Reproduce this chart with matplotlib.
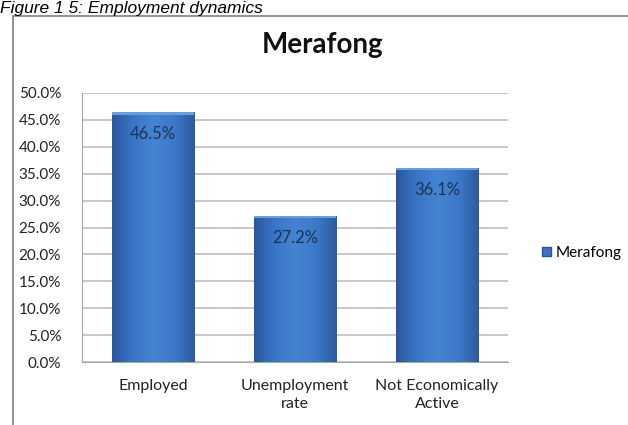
import matplotlib.pyplot as plt
import numpy as np
from matplotlib.patches import Rectangle
from matplotlib.colors import LinearSegmentedColormap

# data
categories = ['Employed', 'Unemployment\nrate', 'Not Economically\nActive']
values = [46.5, 27.2, 36.1]
yticks = np.arange(0, 50.1, 5)
series_name = 'Merafong'

W, H = 628, 425
fig = plt.figure(figsize=(W / 100, H / 100), dpi=100)

# caption above the chart frame
fig.text(0.0, 1 - 13 / H, 'Figure 1 5: Employment dynamics', fontsize=12.5,
         style='italic', family='Liberation Sans', ha='left', va='baseline')

# chart frame
fig.patches.append(Rectangle((13 / W, -0.1), 1.2, (H - 16) / H + 0.1,
                             transform=fig.transFigure, fill=False,
                             edgecolor='#7f7f7f', linewidth=1.2))

ax = fig.add_axes([82 / W, 63 / H, 426 / W, 269 / H])
ax.set_ylim(0, 50)
ax.set_yticks(yticks)
ax.set_yticklabels(['%.1f%%' % v for v in yticks])
ax.yaxis.grid(True, color='#bfbfbf', linewidth=1.2)
ax.set_axisbelow(True)
for s in ['top', 'right']:
    ax.spines[s].set_visible(False)
for s in ['left', 'bottom']:
    ax.spines[s].set_color('#a6a6a6')
ax.tick_params(axis='y', length=0, pad=15, labelsize=11, colors='#222222')
ax.tick_params(axis='x', length=0, pad=12, labelsize=11.5, colors='#222222')
for lbl in ax.get_yticklabels() + ax.get_xticklabels():
    lbl.set_family('Lato')

x = np.arange(len(categories))
bars = ax.bar(x, values, width=0.58, color='#3a72c0', edgecolor='none', zorder=2)
ax.set_xticks(x)
ax.set_xticklabels(categories, linespacing=1.4, family='Lato')

# shaded fill: darker at the sides, lighter in the middle
cmap = LinearSegmentedColormap.from_list(
    'bev', ['#2a579c', '#3a75c6', '#4584d0', '#3d79c9', '#2c5aa0'])
grad = np.linspace(0, 1, 256).reshape(1, -1)
for b in bars:
    bx, bw, bh = b.get_x(), b.get_width(), b.get_height()
    im = ax.imshow(grad, cmap=cmap, aspect='auto', zorder=3,
                   extent=[bx, bx + bw, 0, bh], interpolation='bicubic')
    im.set_clip_path(b)
    # light bevel along the top edge
    ax.add_patch(Rectangle((bx, bh - 0.5), bw, 0.5, color='#6a9fdf',
                           zorder=4, linewidth=0))

ax.set_xlim(-0.5, 2.5)
ax.set_ylim(0, 50)

for xi, v in zip(x, values):
    ax.text(xi, v - 4.2, '%.1f%%' % v, ha='center', va='center', fontsize=12,
            family='Lato', color='#1a3358', zorder=5)

fig.text(323 / W, 1 - 45 / H, 'Merafong', ha='center', va='center',
         fontsize=20, fontweight='bold', family='Lato', color='#111111')

handle = Rectangle((0, 0), 1, 1, facecolor='#3a72c0', edgecolor='#2a579c')
leg = fig.legend([handle], [series_name], loc='center left',
                 bbox_to_anchor=(528 / W, 1 - 253 / H), frameon=False,
                 handlelength=0.6, handleheight=0.6, handletextpad=0.3,
                 prop={'family': 'Lato', 'size': 11})

fig.savefig('out.png', dpi=100)
